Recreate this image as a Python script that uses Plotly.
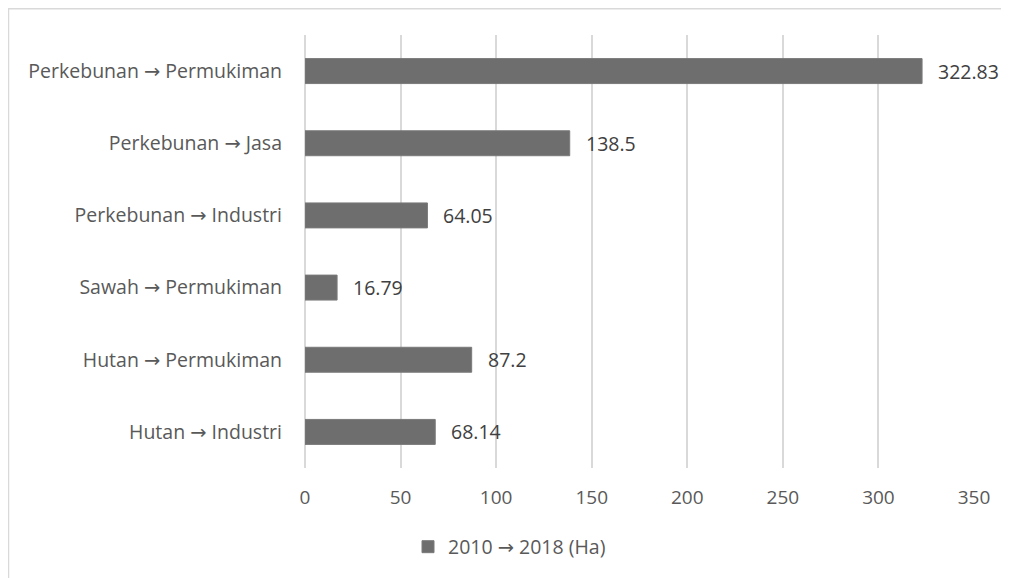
import plotly.graph_objects as go

categories = ["Hutan → Industri", "Hutan → Permukiman", "Sawah → Permukiman",
              "Perkebunan → Industri", "Perkebunan → Jasa", "Perkebunan → Permukiman"]
values = [68.14, 87.2, 16.79, 64.05, 138.5, 322.83]
value_labels = ["68.14", "87.2", "16.79", "64.05", "138.5", "322.83"]
series_name = "2010 → 2018 (Ha)"
x_ticks = [0, 50, 100, 150, 200, 250, 300, 350]

# page body has an 8px margin, compensate
OFF = 8
W, H = 1009 - OFF, 578 - OFF
L, T = 305 - OFF, 35 - OFF
pw, ph = 669, 433
R, B = W - L - pw, H - T - ph

FONT = "Open Sans, DejaVu Sans"
TXT = "#595959"
BAR = "#6e6e6e"
GRID = "#d9d9d9"

fig = go.Figure()
fig.add_trace(go.Bar(
    y=categories, x=values, orientation="h", name=series_name,
    marker=dict(color=BAR, line=dict(color="#7a7a7a", width=1)),
    width=0.346, showlegend=True,
))

for c, v, t in zip(categories, values, value_labels):
    fig.add_annotation(x=v, y=c, text=t, xanchor="left", yanchor="middle",
                       xshift=14, showarrow=False,
                       font=dict(family=FONT, size=19.5, color="#404040"))

def px_x(p):
    return (p - OFF - L) / pw

def px_y(p):
    return (H - B - (p - OFF)) / ph

# outer chart border
fig.add_shape(type="rect", xref="paper", yref="paper",
              x0=px_x(8.5), x1=px_x(1040), y0=px_y(8.8), y1=px_y(600),
              line=dict(color=GRID, width=1.5), fillcolor="rgba(0,0,0,0)", layer="below")

fig.update_layout(
    width=W, height=H,
    margin=dict(l=L, r=R, t=T, b=B, pad=0),
    paper_bgcolor="white", plot_bgcolor="white",
    font=dict(family=FONT, size=19.5, color=TXT),
    bargap=0.654,
    xaxis=dict(range=[0, 350], tickvals=x_ticks, showgrid=True, gridcolor=GRID,
               gridwidth=1.5, zeroline=True, zerolinecolor=GRID, zerolinewidth=1.5,
               showline=False, ticks="",
               tickfont=dict(family=FONT, size=19, color=TXT), ticklabelstandoff=16),
    yaxis=dict(showgrid=False, zeroline=False, showline=False, ticks="",
               tickfont=dict(family=FONT, size=19.5, color=TXT), ticklabelstandoff=22),
    legend=dict(orientation="h", x=px_x(408), y=px_y(547), xanchor="left", yanchor="middle",
                font=dict(family=FONT, size=19.5, color=TXT), bgcolor="rgba(0,0,0,0)"),
    showlegend=True,
)

fig.write_html("out.html")
